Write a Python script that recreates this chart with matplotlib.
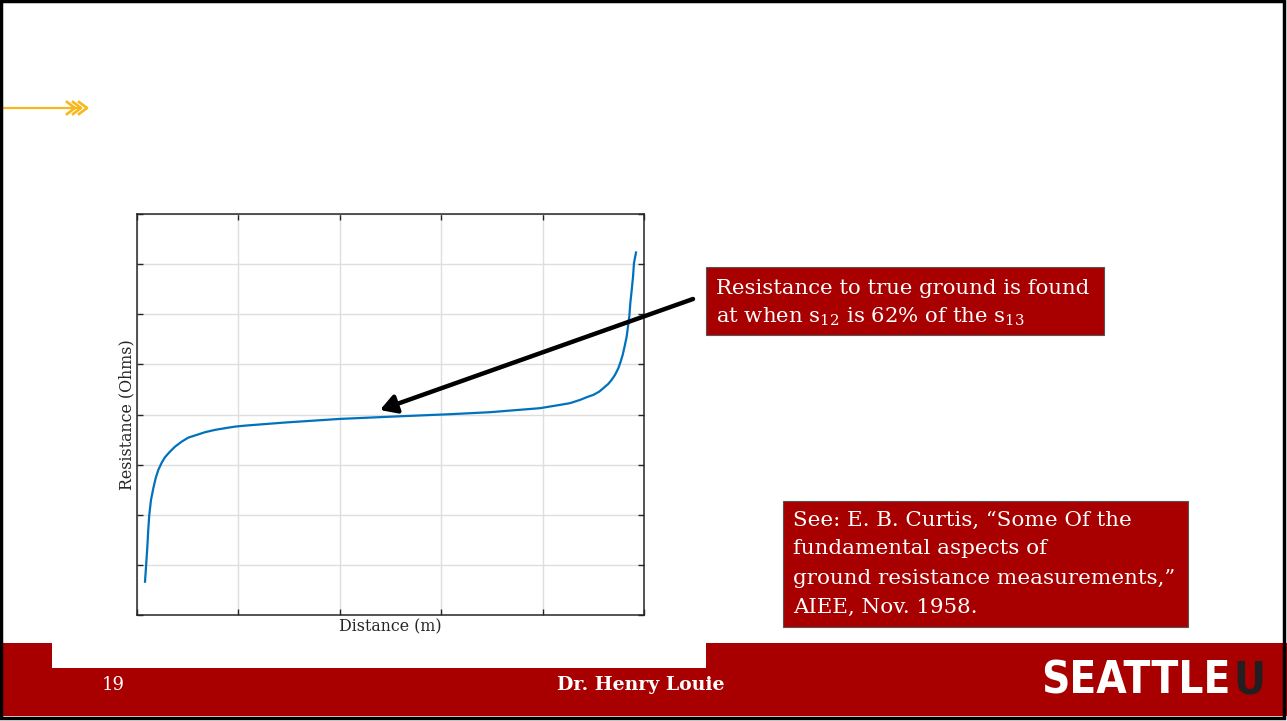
import matplotlib
matplotlib.use("Agg")
import matplotlib.pyplot as plt
from matplotlib.patches import Rectangle, FancyArrowPatch
from matplotlib.lines import Line2D

# curve (distance in grid units, resistance in grid units)
distance = [0.079, 0.089, 0.102, 0.111, 0.121, 0.138, 0.161, 0.184, 0.210, 0.244,
            0.276, 0.325, 0.375, 0.441, 0.506, 0.589, 0.671, 0.769, 0.868, 0.966,
            1.065, 1.46, 2.002, 2.54, 3.087, 3.481, 3.974, 4.172, 4.270, 4.369,
            4.451, 4.500, 4.559, 4.599, 4.648, 4.681, 4.714, 4.747, 4.770, 4.790,
            4.810, 4.829, 4.842, 4.855, 4.865, 4.879, 4.892, 4.901, 4.921]
resistance = [0.665, 0.964, 1.363, 1.697, 1.996, 2.295, 2.529, 2.729, 2.894, 3.040,
              3.148, 3.259, 3.359, 3.459, 3.539, 3.593, 3.647, 3.693, 3.727, 3.758,
              3.778, 3.84, 3.912, 3.96, 4.006, 4.046, 4.126, 4.192, 4.226, 4.291,
              4.357, 4.391, 4.457, 4.525, 4.611, 4.691, 4.790, 4.924, 5.056, 5.190,
              5.369, 5.555, 5.754, 5.954, 6.222, 6.487, 6.752, 7.020, 7.232]
x_ticks = [0, 1, 2, 3, 4, 5]
y_ticks = [0, 1, 2, 3, 4, 5, 6, 7, 8]

note_lines = [r"Resistance to true ground is found",
              r"at when s$_{\mathregular{12}}$ is 62% of the s$_{\mathregular{13}}$"]
ref_lines = ["See: E. B. Curtis, \u201cSome Of the",
             "fundamental aspects of",
             "ground resistance measurements,\u201d",
             "AIEE, Nov. 1958."]

W, H = 1287, 721
RED = "#A80000"
SERIF = "DejaVu Serif"


def fx(x):
    return x / W


def fy(y):
    return 1 - y / H


fig = plt.figure(figsize=(W / 100, H / 100), dpi=100)
fig.patch.set_facecolor("white")

# footer band and the chart image's white background poking into it
fig.patches.append(Rectangle((0, fy(716)), 1, (716 - 643) / H, transform=fig.transFigure,
                             facecolor=RED, edgecolor="none", zorder=0))
fig.patches.append(Rectangle((fx(52), fy(668)), (706 - 52) / W, (668 - 643) / H,
                             transform=fig.transFigure, facecolor="white",
                             edgecolor="none", zorder=1))

ax = fig.add_axes([fx(137), fy(615), 507 / W, 401 / H])
ax.plot(distance, resistance, color="#0072BD", lw=1.6, zorder=3)
ax.set_xlim(0, 5)
ax.set_ylim(0, 8)
ax.set_xticks(x_ticks)
ax.set_yticks(y_ticks)
ax.set_xticklabels([])
ax.set_yticklabels([])
ax.tick_params(direction="in", length=4, width=1, color="#262626",
               top=True, right=True)
ax.grid(True, color="#DEDEDE", lw=1)
ax.set_axisbelow(True)
for s in ax.spines.values():
    s.set_color("#262626")
    s.set_linewidth(1.1)
ax.set_xlabel("Distance (m)", fontsize=11.4, family=SERIF, color="#262626", labelpad=-1)
ax.set_ylabel("Resistance (Ohms)", fontsize=11.4, family=SERIF, color="#262626", labelpad=-2)

# black callout arrow
fig.add_artist(FancyArrowPatch(
    (fx(693), fy(299)), (fx(380), fy(410)), transform=fig.transFigure,
    arrowstyle="-|>,head_length=6,head_width=3.5", lw=3.2, color="black",
    mutation_scale=1.6, shrinkA=0, shrinkB=0, zorder=5))

# callout boxes
fig.patches.append(Rectangle((fx(706), fy(335)), (1104 - 706) / W, (335 - 267) / H,
                             transform=fig.transFigure, facecolor=RED,
                             edgecolor="#555555", lw=0.8, zorder=4))
for i, line in enumerate(note_lines):
    fig.text(fx(716), fy(288 + 29 * i), line, color="white", fontsize=15.3,
             family=SERIF, va="center", ha="left", zorder=6)

fig.patches.append(Rectangle((fx(783), fy(627)), (1188 - 783) / W, (627 - 501) / H,
                             transform=fig.transFigure, facecolor=RED,
                             edgecolor="#555555", lw=0.8, zorder=4))
for i, line in enumerate(ref_lines):
    fig.text(fx(793), fy(520 + 29 * i), line, color="white", fontsize=15.4,
             family=SERIF, va="center", ha="left", zorder=6)

# orange bullet arrow top-left
gold = "#F6B81A"
fig.add_artist(Line2D([fx(3), fx(80)], [fy(108), fy(108)], transform=fig.transFigure,
                      color=gold, lw=1.6))
for tip in (75, 81, 87):
    fig.add_artist(Line2D([fx(tip - 8), fx(tip), fx(tip - 8)], [fy(102), fy(108), fy(114)],
                          transform=fig.transFigure, color=gold, lw=1.9))

# footer text
fig.text(fx(113), fy(685), "19", color="white", fontsize=13, family=SERIF,
         ha="center", va="center")
fig.text(fx(641), fy(685), "Dr. Henry Louie", color="white", fontsize=13.6,
         family=SERIF, weight="bold", ha="center", va="center")
fig.text(fx(1231), fy(681), "SEATTLE", color="white", fontsize=31.5,
         family="DejaVu Sans", stretch="condensed", weight="bold", ha="right", va="center")
fig.text(fx(1233), fy(681), "U", color="#231F20", fontsize=31.5,
         family="DejaVu Sans", stretch="condensed", weight="bold", ha="left", va="center")

# slide frame
fig.patches.append(Rectangle((0.001, 0.004), 0.997, 0.995, transform=fig.transFigure,
                             facecolor="none", edgecolor="black", lw=2.5, zorder=10))

fig.savefig("out.png", dpi=100)
